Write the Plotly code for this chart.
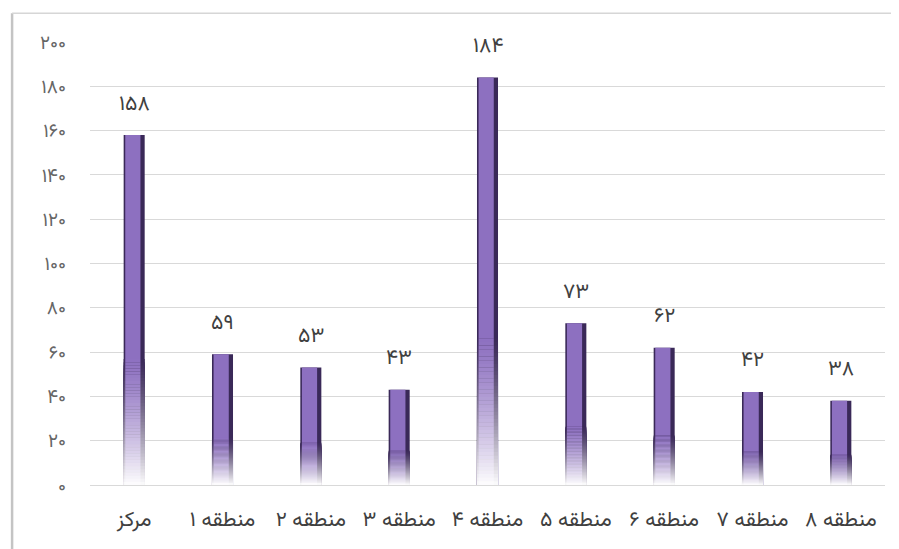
import plotly.graph_objects as go

categories = ["مرکز", "منطقه ۱", "منطقه ۲", "منطقه ۳", "منطقه ۴",
              "منطقه ۵", "منطقه ۶", "منطقه ۷", "منطقه ۸"]
values = [158, 59, 53, 43, 184, 73, 62, 42, 38]
value_labels = ["۱۵۸", "۵۹", "۵۳", "۴۳", "۱۸۴", "۷۳", "۶۲", "۴۲", "۳۸"]
y_tickvals = [0, 20, 40, 60, 80, 100, 120, 140, 160, 180, 200]
y_ticktext = ["۰", "۲۰", "۴۰", "۶۰", "۸۰", "۱۰۰", "۱۲۰", "۱۴۰", "۱۶۰", "۱۸۰", "۲۰۰"]

FONT = "Vazirmatn, 'Noto Sans Arabic', 'DejaVu Sans', sans-serif"
DARK = (58, 41, 88)
BODY = (141, 112, 192)
WHITE = (255, 255, 255)

def mix(c, t):
    return "rgb(%d,%d,%d)" % tuple(round(a + (b - a) * t) for a, b in zip(c, WHITE))

OUT_W, OUT_OFF = 0.238, -0.119
IN_W, IN_OFF = 0.172, -0.101

fig = go.Figure()
fig.add_trace(go.Bar(x=categories, y=values, width=OUT_W, offset=OUT_OFF,
                     marker=dict(color=mix(DARK, 0), line=dict(width=0)),
                     hoverinfo="skip", showlegend=False))
fig.add_trace(go.Bar(x=categories, y=values, width=IN_W, offset=IN_OFF,
                     marker=dict(color=mix(BODY, 0), line=dict(width=0)),
                     hoverinfo="skip", showlegend=False))

# vertical fade toward white at the bottom of each bar
N = 40
FADE = 0.36
for k in range(1, N + 1):
    frac = FADE * (1 - (k - 1) / N)
    t = (k / N) ** 1.3
    ys = [v * frac for v in values]
    fig.add_trace(go.Bar(x=categories, y=ys, width=OUT_W, offset=OUT_OFF,
                         marker=dict(color=mix(DARK, min(1, t * 0.97)), line=dict(width=0)),
                         hoverinfo="skip", showlegend=False))
    fig.add_trace(go.Bar(x=categories, y=ys, width=IN_W, offset=IN_OFF,
                         marker=dict(color=mix(BODY, min(1, t * 0.97)), line=dict(width=0)),
                         hoverinfo="skip", showlegend=False))

for c, v, lab in zip(categories, values, value_labels):
    fig.add_annotation(x=c, y=v, text=lab, showarrow=False, yshift=31,
                       font=dict(size=21, color="#404040", family=FONT))

# outer frame (left and top edges visible)
fig.add_shape(type="line", xref="paper", yref="paper", x0=-0.098, x1=-0.098,
              y0=-0.2, y1=1.065, line=dict(color="#c4c4c4", width=2.5))
fig.add_shape(type="line", xref="paper", yref="paper", x0=-0.098, x1=1.1,
              y0=1.065, y1=1.065, line=dict(color="#d6d6d6", width=1.5))

fig.update_layout(
    width=891, height=541,
    margin=dict(l=82, r=14, t=34, b=61),
    barmode="overlay",
    paper_bgcolor="white", plot_bgcolor="white",
    font=dict(family=FONT, color="#595959"),
    showlegend=False,
)
fig.update_xaxes(showgrid=False, showline=False, ticks="",
                 tickfont=dict(size=21, color="#404040", family=FONT),
                 ticklabelstandoff=19)
fig.update_yaxes(range=[0, 200], tickvals=y_tickvals, ticktext=y_ticktext,
                 showgrid=True, gridcolor="#d9d9d9", gridwidth=1.2,
                 zeroline=True, zerolinecolor="#d9d9d9", zerolinewidth=1.2,
                 showline=False, ticks="", tickfont=dict(size=19, color="#666666", family=FONT),
                 ticklabelstandoff=23)

fig.write_html("out.html")
